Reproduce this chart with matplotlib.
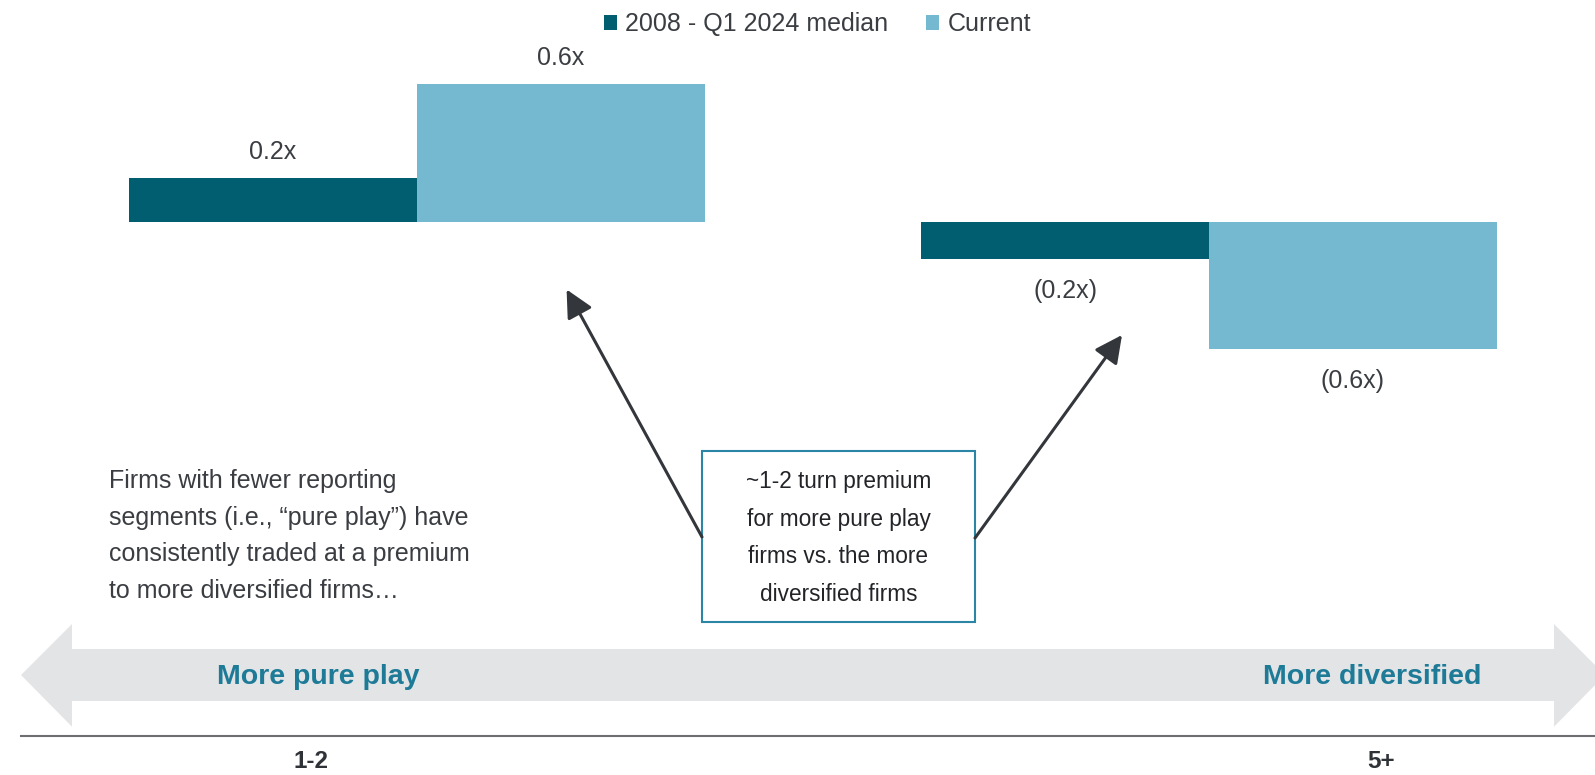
import matplotlib

matplotlib.use("Agg")
import matplotlib.pyplot as plt
from matplotlib.patches import Polygon, Rectangle

plt.rcParams["font.family"] = ["Liberation Sans", "DejaVu Sans"]

DARK = "#005e70"
LIGHT = "#74b9cf"
INK = "#3a3d42"
TEAL = "#1e7b98"
GREY_BAND = "#e3e4e6"

groups = ["More pure play", "More diversified"]
series_names = ["2008 - Q1 2024 median", "Current"]
median_vals = [0.20, -0.17]
current_vals = [0.63, -0.58]
segment_labels = ["1-2", "5+"]

W, H = 1595, 775
fig = plt.figure(figsize=(W / 100, H / 100), dpi=100)
fig.patch.set_facecolor("white")

# bar axes: bottom spine doubles as the segment-count baseline
ax = fig.add_axes([21 / W, 1 - 735.7 / H, 1584 / W, 735.7 / H])
ax.set_xlim(-0.5, 1.5)
ax.set_ylim(-2.35, 222 / 218.6)
bw = 0.3634
xs = list(range(len(groups)))
b1 = ax.bar([x - bw / 2 for x in xs], median_vals, bw, color=DARK, label=series_names[0])
b2 = ax.bar([x + bw / 2 for x in xs], current_vals, bw, color=LIGHT, label=series_names[1])
for bars in (b1, b2):
    for rect, v in zip(bars, bars.datavalues):
        txt = f"{v:.1f}x" if v >= 0 else f"({abs(v):.1f}x)"
        off = 19 if v >= 0 else -23
        ax.annotate(txt, (rect.get_x() + rect.get_width() / 2, v), xytext=(0, off),
                    textcoords="offset points", ha="center", va="center",
                    fontsize=18, color=INK)
for side in ("top", "left", "right"):
    ax.spines[side].set_visible(False)
ax.spines["bottom"].set_color("#6d6e71")
ax.spines["bottom"].set_linewidth(1.5)
ax.set_xticks([])
ax.set_yticks([])
ax.set_facecolor("none")

# overlay in pixel units for the annotations
ov = fig.add_axes([0, 0, 1, 1])
ov.set_xlim(0, W)
ov.set_ylim(H, 0)
ov.axis("off")
ov.patch.set_alpha(0)

band = [(21, 675), (72, 624), (72, 649), (1554, 649), (1554, 624), (1605, 675),
        (1554, 726.7), (1554, 701), (72, 701), (72, 726.7)]
ov.add_patch(Polygon(band, closed=True, facecolor=GREY_BAND, edgecolor="none"))
ov.text(217, 677, groups[0], ha="left", va="center", fontsize=20.5, fontweight="bold", color=TEAL)
ov.text(1481, 677, groups[1], ha="right", va="center", fontsize=20.5, fontweight="bold", color=TEAL)

ov.text(311, 762, segment_labels[0], ha="center", va="center", fontsize=17.5, fontweight="bold", color="#2f3237")
ov.text(1381, 762, segment_labels[1], ha="center", va="center", fontsize=17.5, fontweight="bold", color="#2f3237")

ov.text(109, 536, "Firms with fewer reporting\nsegments (i.e., \u201cpure play\u201d) have\n"
        "consistently traded at a premium\nto more diversified firms\u2026",
        ha="left", va="center", fontsize=18, color=INK, linespacing=1.68)

ov.add_patch(Rectangle((702, 450.5), 273, 171.5, facecolor="white", edgecolor="#2b86a6", lw=1.5))
ov.text(838.5, 538, "~1-2 turn premium\nfor more pure play\nfirms vs. the more\ndiversified firms",
        ha="center", va="center", fontsize=16.3, color="#222428", linespacing=1.8)

arrow_kw = dict(arrowstyle="-|>,head_length=0.7,head_width=0.35", color="#33363b", lw=2.2,
                mutation_scale=24, shrinkA=0, shrinkB=0)
ov.annotate("", xy=(566.6, 289.5), xytext=(702, 537), arrowprops=arrow_kw)
ov.annotate("", xy=(1122, 335), xytext=(975, 538), arrowprops=arrow_kw)

leg = fig.legend(handles=[b1, b2], loc="center", bbox_to_anchor=(817.5 / W, 1 - 24.4 / H),
                 ncol=2, frameon=False, fontsize=18, handlelength=0.5, handleheight=0.5,
                 handletextpad=0.35, columnspacing=1.5, labelcolor=INK)

fig.savefig("out.png", dpi=100, facecolor="white")
